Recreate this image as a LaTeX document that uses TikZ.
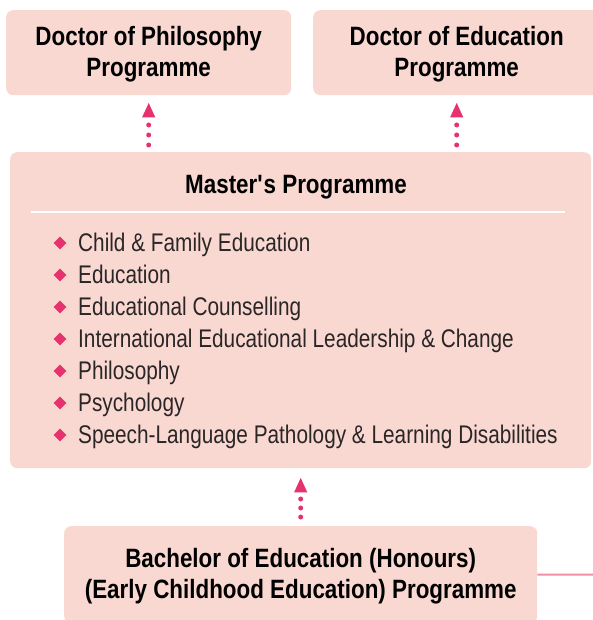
\documentclass[tikz,border=0pt]{standalone}
\usepackage{fontspec}
\setmainfont{Liberation Sans}[FakeStretch=0.815, BoldFeatures={FakeStretch=0.845}]
\usetikzlibrary{arrows.meta,calc}
\definecolor{boxfill}{HTML}{F9D8D2}
\definecolor{accent}{HTML}{E6336F}
\definecolor{linkpink}{HTML}{EE8FA2}
\definecolor{bodytext}{HTML}{2B2626}
\begin{document}
\begin{tikzpicture}[x=1pt,y=-1pt,
  progbox/.style={fill=boxfill, rounded corners=7pt, inner sep=0pt, anchor=north west,
    align=center, text height=53pt, font=\fontsize{26.5}{31}\selectfont\bfseries, text=black},
  itemtext/.style={anchor=base west, inner sep=0pt, text=bodytext, font=\fontsize{25.5}{31}\selectfont},
  bulletmark/.style={fill=accent, inner sep=0pt, minimum size=9pt, rotate=45},
  dotarrow/.style={accent, line width=5pt, line cap=round, dash pattern=on 0pt off 10pt,
    -{Triangle[width=12pt,length=15pt,line cap=butt]}, shorten <=7pt, shorten >=7pt}]
\useasboundingbox (0,0) rectangle (593,620);
\clip (0,0) rectangle (593,620);
\node[progbox, minimum width=285pt, minimum height=85pt] (phd) at (6,10)
  {Doctor of Philosophy\\Programme};
\node[progbox, minimum width=287pt, minimum height=85pt] (edd) at (313,10)
  {Doctor of Education\\Programme};
\node[progbox, minimum width=581pt, minimum height=316pt] (mas) at (10,152) {};
\node[progbox, minimum width=473pt, minimum height=97pt] (bach) at (64,526)
  {Bachelor of Education (Honours)\\(Early Childhood Education) Programme};
\node[anchor=base, inner sep=0pt, font=\fontsize{26.5}{31}\selectfont\bfseries] (mtitle) at (296,193.5) {Master\textquotesingle s Programme};
\coordinate (rl) at (31,212);
\coordinate (rr) at (565,212);
\draw[white, line width=1pt] (rl) -- (rr);
\foreach \t [count=\i] in {Child \& Family Education, Education, Educational Counselling,
  International Educational Leadership \& Change, Philosophy, Psychology,
  Speech-Language Pathology \& Learning Disabilities}{
  \node[bulletmark] (b\i) at (60,{243+32*(\i-1)}) {};
  \node[itemtext] (t\i) at (78,{251.5+32*(\i-1)}) {\t};
}
\draw[dotarrow] (mas.north -| phd.south) -- (phd.south);
\draw[dotarrow] (mas.north -| edd.south) -- (edd.south);
\draw[dotarrow, dash pattern=on 0pt off 9pt, shorten <=9pt, shorten >=9pt] (bach.north) -- (bach.north |- mas.south);
\coordinate (cor) at (600,574.5);
\draw[linkpink, line width=2pt] (bach.east) -- (cor);
\end{tikzpicture}
\end{document}
